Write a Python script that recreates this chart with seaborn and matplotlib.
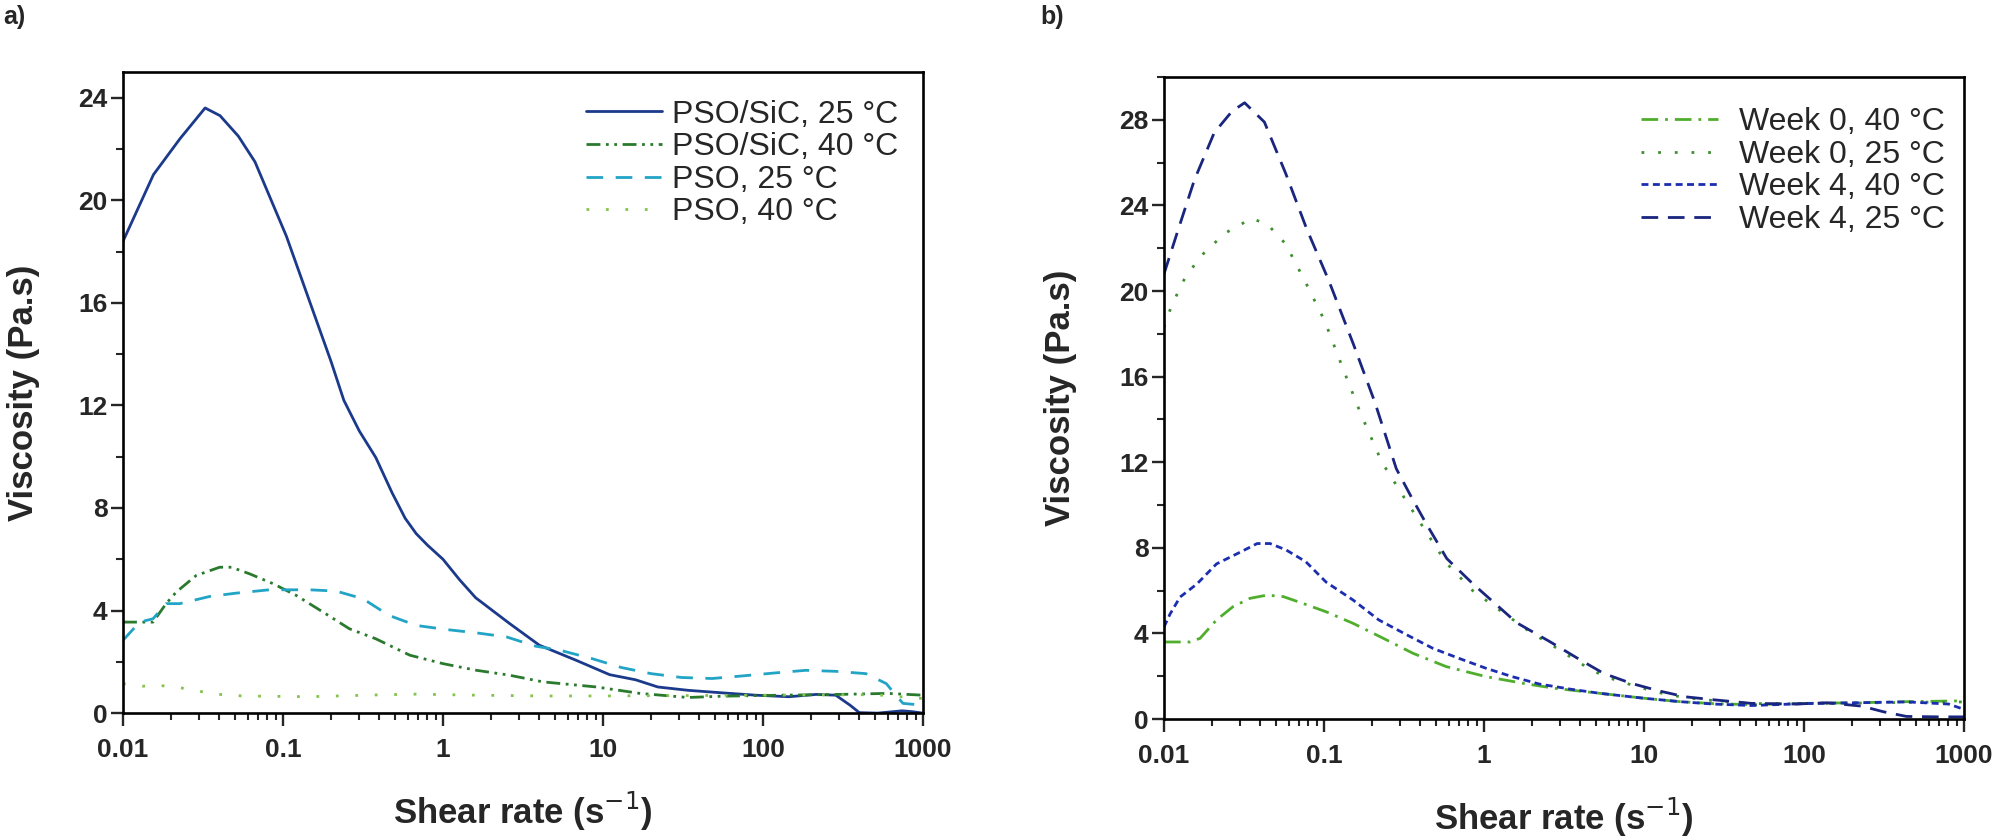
"""Viscosity vs shear rate curves for PSO and PSO/SiC slurries (two panels)."""

import matplotlib

matplotlib.use("Agg")

import matplotlib.pyplot as plt
import matplotlib.ticker as mticker
import numpy as np
import pandas as pd
import seaborn as sns

# ---- panel a) -------------------------------------------------------------
sic25_rate = [0.01, 0.0155, 0.0227, 0.0326, 0.0404, 0.0526, 0.0668, 0.105,
              0.162, 0.2, 0.24, 0.3, 0.38, 0.48, 0.58, 0.68, 0.8, 1.0, 1.27,
              1.6, 2.6, 4.0, 6.8, 11, 16, 22, 34, 56, 90, 145, 215, 285,
              350, 400, 520, 740, 850, 1000]
sic25_visc = [18.4, 21.0, 22.4, 23.6, 23.3, 22.5, 21.5, 18.6,
              15.3, 13.7, 12.2, 11.0, 9.97, 8.6, 7.6, 7.0, 6.55, 6.0, 5.2,
              4.5, 3.5, 2.65, 2.06, 1.5, 1.3, 1.02, 0.89, 0.79, 0.70, 0.64,
              0.73, 0.70, 0.31, 0.02, 0.0, 0.09, 0.06, 0.0]

sic40_rate = [0.01, 0.0154, 0.0186, 0.0215, 0.0287, 0.0402, 0.0476, 0.062,
              0.0866, 0.121, 0.178, 0.26, 0.38, 0.62, 1.0, 1.62, 2.6, 4.2,
              9.1, 17, 34, 55, 130, 300, 600, 1000]
sic40_visc = [3.55, 3.55, 4.27, 4.72, 5.37, 5.69, 5.69, 5.43,
              5.05, 4.59, 3.94, 3.29, 2.9, 2.26, 1.93, 1.67, 1.48, 1.22,
              1.02, 0.77, 0.61, 0.66, 0.70, 0.73, 0.77, 0.70]

pso25_rate = [0.01, 0.0127, 0.0154, 0.0186, 0.0226, 0.0348, 0.051, 0.082,
              0.146, 0.215, 0.316, 0.46, 0.68, 1.05, 1.62, 2.5, 3.8, 5.4,
              8.5, 13, 20, 31, 48, 74, 120, 185, 285, 440, 590, 650, 750,
              1000]
pso25_visc = [2.84, 3.55, 3.68, 4.27, 4.27, 4.55, 4.68, 4.81,
              4.81, 4.76, 4.46, 3.81, 3.42, 3.26, 3.13, 2.97, 2.61, 2.45,
              2.13, 1.78, 1.54, 1.39, 1.35, 1.45, 1.57, 1.67, 1.63, 1.54,
              1.15, 0.83, 0.38, 0.31]

pso40_rate = [0.01, 0.0133, 0.016, 0.0215, 0.029, 0.038, 0.056, 0.146,
              0.38, 0.68, 1.6, 4.2, 10, 100, 500, 1000]
pso40_visc = [1.15, 1.05, 1.09, 1.02, 0.87, 0.74, 0.67, 0.64,
              0.71, 0.74, 0.70, 0.67, 0.67, 0.70, 0.72, 0.57]

# ---- panel b) -------------------------------------------------------------
w0_40_rate = [0.01, 0.0145, 0.0168, 0.0213, 0.027, 0.0345, 0.044, 0.0557,
              0.074, 0.104, 0.152, 0.235, 0.36, 0.58, 1.03, 1.84, 2.8, 5.3,
              10, 16.8, 27, 47, 100, 215, 440, 1000]
w0_40_visc = [3.6, 3.6, 3.77, 4.63, 5.25, 5.64, 5.79, 5.72,
              5.4, 5.0, 4.47, 3.77, 3.07, 2.45, 1.98, 1.64, 1.43, 1.2,
              0.97, 0.81, 0.72, 0.67, 0.73, 0.76, 0.81, 0.85]

w0_25_rate = [0.01, 0.0106, 0.013, 0.0168, 0.024, 0.0353, 0.0446, 0.0576,
              0.078, 0.101, 0.131, 0.169, 0.23, 0.346, 0.58, 0.85, 1.3, 2.0,
              2.6, 4.0, 5.6, 8.3, 12, 18, 28, 47, 100, 200, 440, 1000]
w0_25_visc = [18.3, 18.9, 20.4, 21.6, 22.7, 23.4, 23.1, 22.2,
              20.3, 18.6, 16.4, 14.3, 12.0, 9.9, 7.3, 6.0, 5.0, 4.0,
              3.5, 2.6, 2.0, 1.6, 1.25, 1.0, 0.85, 0.72, 0.72, 0.74, 0.78, 0.8]

w4_40_rate = [0.01, 0.0109, 0.0126, 0.016, 0.0213, 0.03, 0.0382, 0.046,
              0.058, 0.077, 0.103, 0.152, 0.22, 0.33, 0.48, 0.7, 1.03, 1.5,
              2.2, 3.5, 5.3, 10, 16.8, 27, 47, 100, 215, 440, 800, 1000]
w4_40_visc = [4.3, 4.9, 5.7, 6.3, 7.25, 7.8, 8.2, 8.2,
              7.9, 7.35, 6.4, 5.56, 4.63, 3.93, 3.3, 2.83, 2.37, 1.98,
              1.64, 1.39, 1.2, 0.97, 0.81, 0.70, 0.63, 0.72, 0.76, 0.8, 0.7, 0.45]

w4_25_rate = [0.01, 0.0123, 0.0155, 0.0206, 0.0266, 0.0319, 0.0424, 0.0576,
              0.078, 0.107, 0.153, 0.208, 0.283, 0.35, 0.43, 0.585, 0.857, 1.6,
              2.6, 4.0, 5.6, 8.3, 12.3, 18, 28, 47, 90, 140, 230, 313, 437,
              700, 1000]
w4_25_visc = [20.8, 22.9, 25.2, 27.4, 28.4, 28.8, 27.9, 25.5,
              22.9, 20.5, 17.5, 14.8, 11.7, 10.4, 9.2, 7.5, 6.3, 4.5,
              3.6, 2.76, 2.13, 1.67, 1.32, 1.04, 0.89, 0.73, 0.70, 0.76, 0.6, 0.34,
              0.12, 0.1, 0.1]

X_TICKS = [0.01, 0.1, 1, 10, 100, 1000]

PANEL_A = [
    ("PSO/SiC, 25 \u00b0C", sic25_rate, sic25_visc, "#1b3a8c", "-"),
    ("PSO/SiC, 40 \u00b0C", sic40_rate, sic40_visc, "#2a7a2e", (0, (5, 2, 1, 2, 1, 2))),
    ("PSO, 25 \u00b0C", pso25_rate, pso25_visc, "#22a4c6", (0, (6, 4.5))),
    ("PSO, 40 \u00b0C", pso40_rate, pso40_visc, "#84c44e", (0, (1, 6))),
]
PANEL_B = [
    ("Week 0, 40 \u00b0C", w0_40_rate, w0_40_visc, "#4fae2c", (0, (6, 2.5, 1, 2.5))),
    ("Week 0, 25 \u00b0C", w0_25_rate, w0_25_visc, "#3f8f30", (0, (1, 5))),
    ("Week 4, 40 \u00b0C", w4_40_rate, w4_40_visc, "#1c2eb0", (0, (2.5, 1.6))),
    ("Week 4, 25 \u00b0C", w4_25_rate, w4_25_visc, "#19257f", (0, (6, 3.5))),
]

sns.set_style("ticks")
plt.rcParams["font.family"] = ["Liberation Sans", "DejaVu Sans"]
plt.rcParams["axes.linewidth"] = 1.9


def draw_panel(ax, series, ymax, yticks, ylab_x, leg_anchor, textpad):
    for label, rate, visc, color, ls in series:
        df = pd.DataFrame({"rate": rate, "visc": visc})
        sns.lineplot(data=df, x="rate", y="visc", ax=ax, color=color,
                     linestyle=ls, linewidth=2.0, label=label,
                     estimator=None, sort=True)

    ax.set_xscale("log")
    ax.set_xlim(0.01, 1000)
    ax.set_ylim(0, ymax)
    ax.xaxis.set_major_locator(mticker.FixedLocator(X_TICKS))
    ax.xaxis.set_major_formatter(mticker.FuncFormatter(lambda v, _: f"{v:g}"))
    ax.xaxis.set_minor_locator(mticker.LogLocator(base=10, subs=np.arange(2, 10)))
    ax.xaxis.set_minor_formatter(mticker.NullFormatter())
    ax.yaxis.set_major_locator(mticker.FixedLocator(yticks))
    ax.yaxis.set_minor_locator(mticker.MultipleLocator(2))

    ax.tick_params(which="major", direction="out", length=9, width=1.7,
                   labelsize=19, top=False, right=False)
    ax.tick_params(which="minor", direction="out", length=5, width=1.5,
                   top=False, right=False)
    ax.tick_params(axis="x", which="major", pad=9)
    ax.tick_params(axis="y", which="major", pad=2)
    for lab in ax.get_xticklabels() + ax.get_yticklabels():
        lab.set_fontweight("bold")
    for side in ("top", "right", "left", "bottom"):
        ax.spines[side].set_visible(True)
        ax.spines[side].set_color("black")

    ax.set_xlabel("Shear rate (s$^{-1}$)", fontsize=25, fontweight="bold")
    ax.set_ylabel("Viscosity (Pa.s)", fontsize=25, fontweight="bold")
    ax.xaxis.set_label_coords(0.5, -0.12)
    ax.yaxis.set_label_coords(ylab_x, 0.5)

    ax.legend(loc="upper right", bbox_to_anchor=leg_anchor, frameon=False,
              fontsize=23, handlelength=2.4, handletextpad=textpad,
              labelspacing=0.08, borderaxespad=0, borderpad=0)


fig = plt.figure(figsize=(20, 8.38), dpi=100)
ax_a = fig.add_axes([0.0615, 0.149, 0.40, 0.765])
ax_b = fig.add_axes([0.582, 0.142, 0.40, 0.766])

draw_panel(ax_a, PANEL_A, 25, [0, 4, 8, 12, 16, 20, 24],
           -0.104, (0.969, 0.957), 0.3)
draw_panel(ax_b, PANEL_B, 30, [0, 4, 8, 12, 16, 20, 24, 28],
           -0.109, (0.976, 0.953), 0.65)

fig.text(0.0015, 0.994, "a)", fontsize=18, fontweight="bold", va="top", ha="left")
fig.text(0.520, 0.994, "b)", fontsize=18, fontweight="bold", va="top", ha="left")

fig.savefig("out.png", dpi=100, facecolor="white")
plt.close(fig)
